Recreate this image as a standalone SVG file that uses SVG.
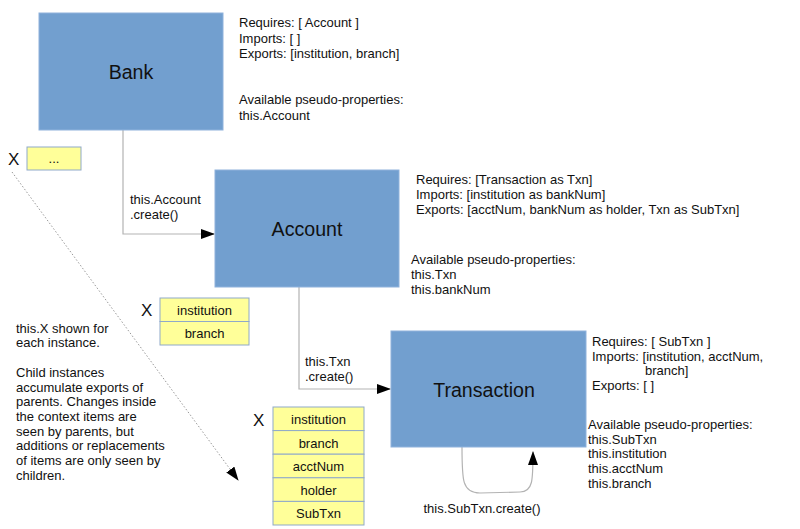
<svg xmlns="http://www.w3.org/2000/svg" width="800" height="529" viewBox="0 0 800 529">
<defs>
<style>
text{font-family:"Liberation Sans",Arial,sans-serif;fill:#111;}
.node{fill:#729fcf;stroke:#8fb2dc;stroke-width:1;}
.big{font-size:19.6px;text-anchor:middle;}
.t{font-size:13px;}
.cell{fill:#ffff99;stroke:#8fa9c9;stroke-width:1;}
.ct{font-size:13px;text-anchor:middle;}
.x{font-size:17px;}
.conn{fill:none;stroke:#b3b3b3;stroke-width:1.2;}
.dot{fill:none;stroke:#999;stroke-width:1;stroke-dasharray:1.5,2;}
</style>
<marker id="arr" markerWidth="14" markerHeight="10" refX="13" refY="5" orient="auto" markerUnits="userSpaceOnUse">
<path d="M0,0 L14,5 L0,10 Z" fill="#000"/>
</marker>
</defs>
<rect width="800" height="529" fill="#fff"/>

<g id="connectors">
<path class="conn" d="M123,130 V234 H214" marker-end="url(#arr)"/>
<path class="conn" d="M299,287 V389 H390" marker-end="url(#arr)"/>
<path class="conn" d="M462,447 C462,480 462,493 480,493 L520,492 C533,492 533,480 533,452" marker-end="url(#arr)"/>
<path class="dot" d="M12,172 L238,480" marker-end="url(#arr)"/>
</g>

<g id="bank">
<rect class="node" x="39" y="13" width="184" height="117"/>
<text class="big" x="131" y="79">Bank</text>
</g>
<g id="bank-info">
<text class="t" x="239" y="27">Requires: [ Account ]</text>
<text class="t" x="239" y="43">Imports: [ ]</text>
<text class="t" x="239" y="58">Exports: [institution, branch]</text>
<text class="t" x="239" y="104">Available pseudo-properties:</text>
<text class="t" x="239" y="120">this.Account</text>
</g>

<g id="account">
<rect class="node" x="215" y="170" width="184" height="117"/>
<text class="big" x="307" y="236">Account</text>
</g>
<g id="account-info">
<text class="t" x="416" y="184">Requires: [Transaction as Txn]</text>
<text class="t" x="416" y="199">Imports: [institution as bankNum]</text>
<text class="t" x="416" y="214">Exports: [acctNum, bankNum as holder, Txn as SubTxn]</text>
<text class="t" x="411" y="264">Available pseudo-properties:</text>
<text class="t" x="411" y="279">this.Txn</text>
<text class="t" x="411" y="294">this.bankNum</text>
</g>

<g id="transaction">
<rect class="node" x="391" y="331" width="195" height="116"/>
<text class="big" x="484" y="397">Transaction</text>
</g>
<g id="transaction-info">
<text class="t" x="592" y="346">Requires: [ SubTxn ]</text>
<text class="t" x="592" y="361">Imports: [institution, acctNum,</text>
<text class="t" x="645" y="375">branch]</text>
<text class="t" x="592" y="390">Exports: [ ]</text>
<text class="t" x="588" y="429">Available pseudo-properties:</text>
<text class="t" x="588" y="444">this.SubTxn</text>
<text class="t" x="588" y="458">this.institution</text>
<text class="t" x="588" y="473">this.acctNum</text>
<text class="t" x="588" y="488">this.branch</text>
</g>

<g id="label-account-create">
<text class="t" x="130" y="204">this.Account</text>
<text class="t" x="130" y="219">.create()</text>
</g>
<g id="label-txn-create">
<text class="t" x="305" y="366">this.Txn</text>
<text class="t" x="305" y="381">.create()</text>
</g>
<g id="label-subtxn-create">
<text class="t" x="482" y="513" text-anchor="middle">this.SubTxn.create()</text>
</g>

<g id="ctx-bank">
<text class="x" x="8" y="165">X</text>
<rect class="cell" x="27" y="147" width="54" height="23"/>
<text class="ct" x="54" y="163">...</text>
</g>

<g id="ctx-account">
<text class="x" x="141" y="316">X</text>
<rect class="cell" x="160" y="298" width="89" height="23.5"/>
<rect class="cell" x="160" y="321.5" width="89" height="23.5"/>
<text class="ct" x="204.5" y="314.5">institution</text>
<text class="ct" x="204.5" y="338">branch</text>
</g>

<g id="ctx-transaction">
<text class="x" x="253" y="426">X</text>
<rect class="cell" x="273" y="407" width="91" height="23.6"/>
<rect class="cell" x="273" y="430.6" width="91" height="23.6"/>
<rect class="cell" x="273" y="454.2" width="91" height="23.6"/>
<rect class="cell" x="273" y="477.8" width="91" height="23.6"/>
<rect class="cell" x="273" y="501.4" width="91" height="23.6"/>
<text class="ct" x="318.5" y="424">institution</text>
<text class="ct" x="318.5" y="447.5">branch</text>
<text class="ct" x="318.5" y="471">acctNum</text>
<text class="ct" x="318.5" y="494.5">holder</text>
<text class="ct" x="318.5" y="518">SubTxn</text>
</g>

<g id="note">
<text class="t" x="16" y="333">this.X shown for</text>
<text class="t" x="16" y="347">each instance.</text>
<text class="t" x="16" y="377">Child instances</text>
<text class="t" x="16" y="392">accumulate exports of</text>
<text class="t" x="16" y="406">parents. Changes inside</text>
<text class="t" x="16" y="421">the context items are</text>
<text class="t" x="16" y="436">seen by parents, but</text>
<text class="t" x="16" y="450">additions or replacements</text>
<text class="t" x="16" y="465">of items are only seen by</text>
<text class="t" x="16" y="480">children.</text>
</g>
</svg>
